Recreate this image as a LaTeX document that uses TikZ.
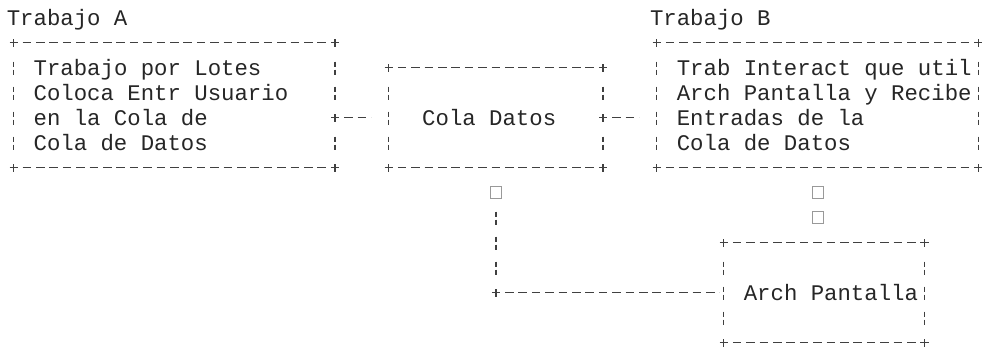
\documentclass[tikz,border=0pt]{standalone}
\usepackage{fontspec}
\newfontfamily\mono{Liberation Mono}

\tikzset{
  trazo/.style={draw=black!75, line width=0.95pt},
  hline/.style={trazo, dash pattern=on 6.4pt off 3.65pt, dash phase=3.2pt},
  vline/.style={trazo, dash pattern=on 4.125pt off 1.725pt on 4.125pt off 8.775pt,
    dash phase=10.5pt, shorten <=6pt, shorten >=6pt},
  caja/.style={rectangle, inner sep=0pt, outer sep=0pt},
  texto/.style={anchor=base west, inner sep=0pt, outer sep=0pt, align=left,
    text width=260pt, text=black!85,
    font={\mono\fontsize{16.75pt}{18.75pt}\selectfont},
    execute at begin node={\spaceskip=10.05pt\relax\xspaceskip=10.05pt\relax}},
  tofu/.style={draw=black!40, line width=0.5pt, minimum width=8pt, minimum height=9pt, inner sep=0pt},
  cruz/.pic={\draw[trazo] (-3pt,0) -- (3pt,0) (0,-3pt) -- (0,3pt);}
}

\begin{document}
\begin{tikzpicture}[x=10.05pt, y=-18.75pt]
		\fill[white] (-1.0075,-0.708) rectangle (72.575,13.172);
		\useasboundingbox (-1.0075,-0.708) rectangle (72.575,13.172);
		% Boxes (one column = one character cell, one row = one text line):
		\node[caja, minimum width=241.2pt, minimum height=93.75pt] (trabA) at (12, 3.5){};
		\node[caja, minimum width=160.8pt, minimum height=75pt] (cola) at (36, 4){};
		\node[caja, minimum width=241.2pt, minimum height=93.75pt] (trabB) at (60, 3.5){};
		\node[caja, minimum width=150.75pt, minimum height=75pt] (arch) at (60.5, 11){};
		% Texts:
		\node[texto] (tituloA) at (-0.5, 0.3){Trabajo A};
		\node[texto] (tituloB) at (47.5, 0.3){Trabajo B};
		\node[texto] (textoA) at (1.5, 2.3){Trabajo por Lotes\\Coloca Entr Usuario\\en la Cola de\\Cola de Datos};
		\node[texto] (textoCola) at (30.5, 4.3){Cola Datos};
		\node[texto] (textoB) at (49.5, 2.3){Trab Interact que util\\Arch Pantalla y Recibe\\Entradas de la\\Cola de Datos};
		\node[texto] (textoArch) at (54.5, 11.3){Arch Pantalla};
		% Missing-glyph marks:
		\node[tofu] (puntaCola) at (36, 7){};
		\node[tofu] (puntaB1) at (60, 7){};
		\node[tofu] (puntaB2) at (60, 8){};
		% Borders:
		\foreach \b in {trabA, cola, trabB, arch}{
			\draw[hline] (\b.north west) -- (\b.north east);
			\draw[hline] (\b.south west) -- (\b.south east);
			\draw[vline] (\b.north west) -- (\b.south west);
			\foreach \c in {north west, north east, south west, south east}
				\pic at (\b.\c) {cruz};
		}
		\draw[vline] (trabB.north east) -- (trabB.south east);
		\draw[vline] (arch.north east) -- (arch.south east);
		% Joints and wires:
		\coordinate (jA) at (cola.west -| trabA.east);
		\coordinate (jD) at (puntaCola |- arch.west);
		\draw[vline] (trabA.north east) -- (jA);
		\draw[vline] (jA) -- (trabA.south east);
		\draw[vline] (cola.north east) -- (cola.east);
		\draw[vline] (cola.east) -- (cola.south east);
		\draw[hline, shorten >=13.25pt] (jA) -- (cola.west);
		\draw[hline, shorten >=13.25pt] (cola.east) -- (cola.east -| trabB.west);
		\draw[vline] (puntaCola.center) -- (jD);
		\draw[hline, shorten >=3.2pt] (jD) -- (arch.west);
		\pic at (jA) {cruz};
		\pic at (cola.east) {cruz};
		\pic at (jD) {cruz};
	\end{tikzpicture}
\end{document}
